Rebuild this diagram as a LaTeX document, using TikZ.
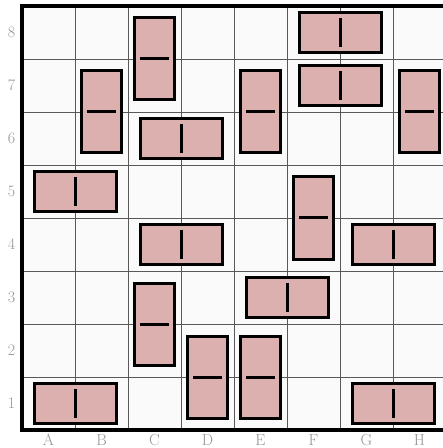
\documentclass[tikz,border=0pt]{standalone}
\usepackage{tikz}
\usetikzlibrary{positioning}
\definecolor{BoardCell}{HTML}{FAFAFA}
\definecolor{PieceRose}{HTML}{DDB0B0}
\definecolor{LabelGray}{HTML}{959595}

\begin{document}
\begin{tikzpicture}[
      x=53pt,y=53pt,
      gridline/.style={draw=black!65,line width=0.7pt},
      piece/.style={draw=black,line width=3pt,fill=PieceRose,inner sep=0pt},
      hpiece/.style={piece,minimum width=82pt,minimum height=40pt,
        path picture={\draw[line width=3pt]
          ([yshift=-14.5pt]path picture bounding box.center) --
          ([yshift=14.5pt]path picture bounding box.center);}},
      vpiece/.style={piece,minimum width=40pt,minimum height=82pt,
        path picture={\draw[line width=3pt]
          ([xshift=-14.5pt]path picture bounding box.center) --
          ([xshift=14.5pt]path picture bounding box.center);}},
      coordlabel/.style={text=LabelGray,inner sep=0pt,
        font=\fontsize{16}{19}\selectfont}
    ]
      \path[use as bounding box,clip] (-22pt,-18pt) rectangle (421pt,430pt);

      % board
      \fill[BoardCell] (0,0) rectangle (8,8);
      \draw[gridline] (0,0) grid[step=1] (8,8);
      \draw[line width=3.2pt] (0,0) rectangle (8,8);

      \foreach \l [count=\i from 0] in {A,B,C,D,E,F,G,H}
        \node[coordlabel] (col\l) at ([yshift=-10pt]\i+0.5,0) {\l};
      \foreach \r in {1,...,8}
        \node[coordlabel] (row\r) at ([xshift=-10.5pt]0,\r-0.5) {\r};

      % horizontal pieces
      \node[hpiece] (pA1) at (1,0.5) {};
      \node[hpiece] (pG1) at (7,0.5) {};
      \node[hpiece] (pE3) at (5,2.5) {};
      \node[hpiece] (pC4) at (3,3.5) {};
      \node[hpiece] (pG4) at (7,3.5) {};
      \node[hpiece] (pA5) at (1,4.5) {};
      \node[hpiece] (pC6) at (3,5.5) {};
      \node[hpiece] (pF7) at (6,6.5) {};
      \node[hpiece] (pF8) at (6,7.5) {};

      % vertical pieces
      \node[vpiece] (pD1) at (3.5,1) {};
      \node[vpiece] (pE1) at (4.5,1) {};
      \node[vpiece] (pC2) at (2.5,2) {};
      \node[vpiece] (pF4) at (5.5,4) {};
      \node[vpiece] (pB6) at (1.5,6) {};
      \node[vpiece] (pE6) at (4.5,6) {};
      \node[vpiece] (pH6) at (7.5,6) {};
      \node[vpiece] (pC7) at (2.5,7) {};
    \end{tikzpicture}
\end{document}
